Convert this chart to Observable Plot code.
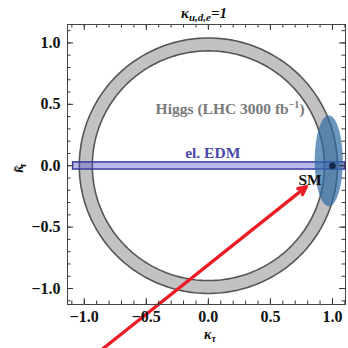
<!DOCTYPE html>
<html><head><meta charset="utf-8">
<script src="https://cdn.jsdelivr.net/npm/d3@7"></script>
<script src="https://cdn.jsdelivr.net/npm/@observablehq/plot@0.6"></script>
<style>body{margin:0;background:#fff}</style>
</head><body><div id="chart"></div>
<script>
// ---- data ----
const xDomain = [-1.135, 1.105];
const yDomain = [-1.13, 1.15];
const majorTicks = [-1, -0.5, 0, 0.5, 1];
const minorTicksX = [-1.1,-1.0,-0.9,-0.8,-0.7,-0.6,-0.5,-0.4,-0.3,-0.2,-0.1,0,0.1,0.2,0.3,0.4,0.5,0.6,0.7,0.8,0.9,1.0,1.1];
const minorTicksY = [-1.1,-1.0,-0.9,-0.8,-0.7,-0.6,-0.5,-0.4,-0.3,-0.2,-0.1,0,0.1,0.2,0.3,0.4,0.5,0.6,0.7,0.8,0.9,1.0,1.1];
const ringCenter = [0, 0];
const ringRadii = [0.935, 1.04];          // inner, outer
const edmBandX = [-1.09, 1.10];
const edmBandY = [-0.031, 0.027];
const higgsEllipseCenter = [0.97, 0.04];
const higgsEllipseAxes = [0.113, 0.37];
const smPoint = [1.0, 0.0];
const arrowFrom = [-0.85, -1.49];
const arrowTo = [0.79, -0.17];
const labelTexts = ["Higgs (LHC 3000 fb", "el. EDM", "SM"];
const labelSup = ["\u22121", "", ""];
const labelSuffix = [")", "", ""];
const labelX = [0.175, 0.035, 0.82];
const labelY = [0.46, 0.1, -0.115];
const labelColors = ["#7a7a7a", "#4848a8", "#111"];

// ---- geometry helpers ----
function ellipsePts(cx, cy, rx, ry, n = 240) {
  const pts = [];
  for (let i = 0; i < n; i++) {
    const t = 2 * Math.PI * i / n;
    pts.push({x: cx + rx * Math.cos(t), y: cy + ry * Math.sin(t)});
  }
  return pts;
}
const outer = ellipsePts(ringCenter[0], ringCenter[1], ringRadii[1], ringRadii[1]);
const inner = ellipsePts(ringCenter[0], ringCenter[1], ringRadii[0], ringRadii[0]);
const blob = ellipsePts(higgsEllipseCenter[0], higgsEllipseCenter[1], higgsEllipseAxes[0], higgsEllipseAxes[1]);
const labels = labelTexts.map((t, i) => ({t, i, x: labelX[i], y: labelY[i], c: labelColors[i]}));

const W = 348, H = 348, mL = 67, mR = 3, mT = 24, mB = 44;
const FH = H - mT - mB, FW = W - mL - mR;
const tickColor = "#333";
const fmt = d3.format(".1f");
const FONT = "Liberation Serif";

const svg = Plot.plot({
  width: W, height: H,
  marginLeft: mL, marginRight: mR, marginTop: mT, marginBottom: mB,
  x: {domain: xDomain},
  y: {domain: yDomain},
  style: {fontFamily: FONT, fontSize: "16px", fontWeight: "bold", background: "#fff", color: "#111"},
  marks: [
    Plot.line(outer, {x: "x", y: "y", fill: "#c2c2c2", stroke: "#555", strokeWidth: 1.6, curve: "linear-closed"}),
    Plot.line(inner, {x: "x", y: "y", fill: "#fff", stroke: "#555", strokeWidth: 1.6, curve: "linear-closed"}),
    Plot.rect([0], {x1: () => edmBandX[0], x2: () => edmBandX[1], y1: () => edmBandY[0], y2: () => edmBandY[1],
      fill: "#5a5ac8", fillOpacity: 0.42, stroke: "#3a3aa0", strokeWidth: 1.5}),
    Plot.line(blob, {x: "x", y: "y", fill: "#2e6aa3", fillOpacity: 0.7, stroke: "none", curve: "linear-closed"}),
    Plot.dot([smPoint], {x: d => d[0], y: d => d[1], r: 3.3, fill: "#14284a", stroke: "none"}),
    Plot.arrow([0], {x1: () => arrowFrom[0], y1: () => arrowFrom[1], x2: () => arrowTo[0], y2: () => arrowTo[1],
      stroke: "#ec1c24", strokeWidth: 3.3, headLength: 4, headAngle: 50}),
    Plot.text(labels, {x: "x", y: "y", text: "t", fill: "c", fontSize: 15.5, fontWeight: "bold", fontFamily: FONT,
      className: "lbl"}),
    // minor/major ticks, inward on all sides
    Plot.tickX(minorTicksX, {x: d => d, insetTop: FH - 3.5, stroke: tickColor}),
    Plot.tickX(minorTicksX, {x: d => d, insetBottom: FH - 3.5, stroke: tickColor}),
    Plot.tickX(majorTicks, {x: d => d, insetTop: FH - 6, stroke: tickColor}),
    Plot.tickX(majorTicks, {x: d => d, insetBottom: FH - 6, stroke: tickColor}),
    Plot.tickY(minorTicksY, {y: d => d, insetRight: FW - 3.5, stroke: tickColor}),
    Plot.tickY(minorTicksY, {y: d => d, insetLeft: FW - 3.5, stroke: tickColor}),
    Plot.tickY(majorTicks, {y: d => d, insetRight: FW - 6, stroke: tickColor}),
    Plot.tickY(majorTicks, {y: d => d, insetLeft: FW - 6, stroke: tickColor}),
    Plot.axisX(majorTicks, {tickSize: 0, tickPadding: 6, tickFormat: fmt, label: null, fontSize: 16, fontWeight: "bold", fontFamily: FONT}),
    Plot.axisY(majorTicks, {tickSize: 0, tickPadding: 7, tickFormat: fmt, label: null, fontSize: 16, fontWeight: "bold", fontFamily: FONT}),
    Plot.frame({stroke: "#444", strokeWidth: 1})
  ]
});

const s = d3.select(svg);
// superscripts for labels
s.selectAll("g.lbl text").each(function() {
  const t = d3.select(this);
  const i = labelTexts.indexOf(this.textContent);
  if (i < 0 || !labelSup[i]) return;
  t.text(null);
  t.append("tspan").text(labelTexts[i]);
  t.append("tspan").attr("font-size", 10).attr("dy", -6).text(labelSup[i]);
  t.append("tspan").attr("dy", 6).text(labelSuffix[i]);
});
// title
const title = s.append("text").attr("x", 204).attr("y", 18).attr("text-anchor", "middle")
  .attr("font-family", FONT).attr("font-style", "italic").attr("font-weight", "bold").attr("font-size", 15).attr("fill", "#111");
title.append("tspan").text("\u03BA");
title.append("tspan").attr("font-size", 11).attr("dy", 3).text("u,d,e");
title.append("tspan").attr("dy", -3).text("=1");
// x label
const xl = s.append("text").attr("x", 210).attr("y", 339).attr("text-anchor", "middle")
  .attr("font-family", FONT).attr("font-style", "italic").attr("font-weight", "bold").attr("font-size", 14).attr("fill", "#111");
xl.append("tspan").text("\u03BA");
xl.append("tspan").attr("font-size", 10).attr("dy", 3).text("\u03C4");
// y label (rotated)
const yl = s.append("text").attr("transform", "translate(23,168) rotate(-90)").attr("text-anchor", "middle")
  .attr("font-family", FONT).attr("font-style", "italic").attr("font-weight", "bold").attr("font-size", 14).attr("fill", "#111");
yl.append("tspan").text("\u03BA");
yl.append("tspan").attr("dx", -7).attr("dy", 1).text("\u02DC");
yl.append("tspan").attr("font-size", 10).attr("dx", 0).attr("dy", 2).text("\u03C4");

document.getElementById("chart").appendChild(svg);
</script>
</body></html>
